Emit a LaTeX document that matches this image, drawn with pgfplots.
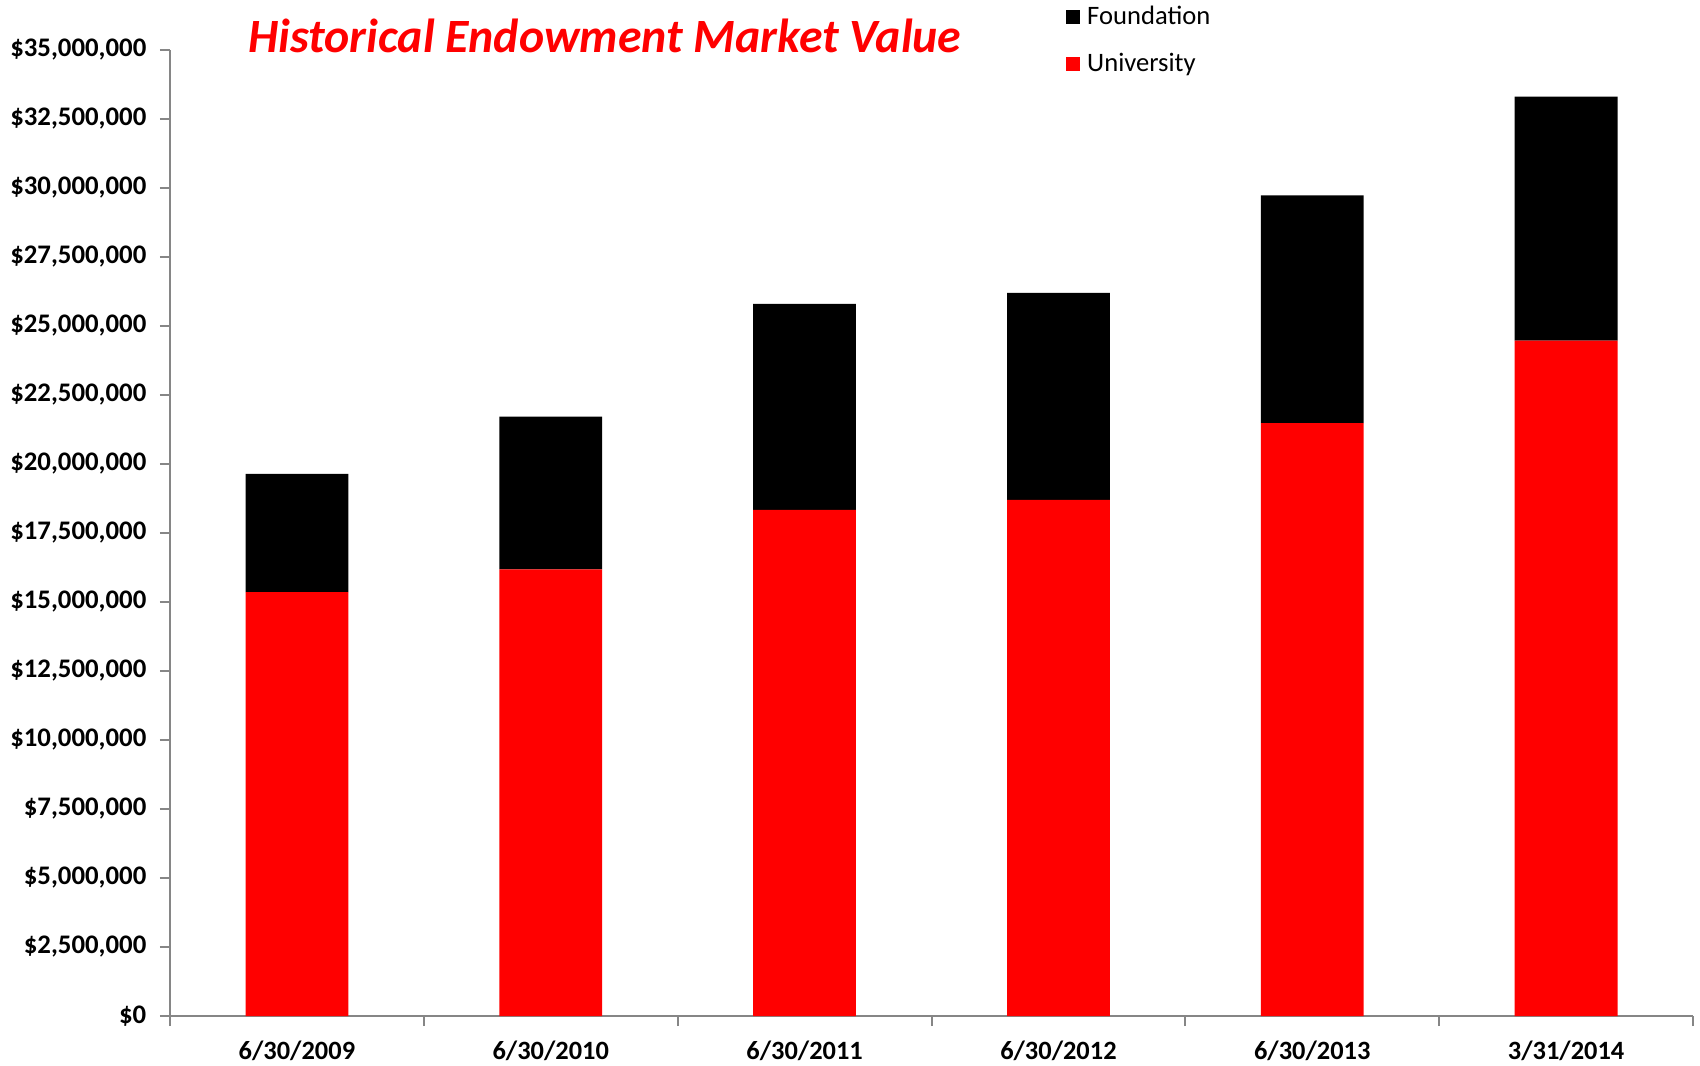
\documentclass[border=0pt]{standalone}
\usepackage{pgfplots}
\pgfplotsset{compat=1.18}
\usepackage{fontspec}
\setmainfont{Carlito}
\definecolor{axgray}{RGB}{134,134,134}
\begin{document}
\begin{tikzpicture}
\begin{axis}[
  scale only axis,
  width=761.5pt, height=483pt,
  ybar stacked,
  bar width=0.405,
  xmin=-0.5, xmax=5.5,
  ymin=0, ymax=35000000,
  axis x line=bottom, axis y line=left,
  axis line style={axgray, line width=1pt, -},
  xtick={0,1,2,3,4,5},
  xticklabels={6/30/2009,6/30/2010,6/30/2011,6/30/2012,6/30/2013,3/31/2014},
  major x tick style={draw=none},
  minor xtick={-0.5,0.5,1.5,2.5,3.5,4.5,5.5},
  minor x tick style={axgray, line width=1pt},
  minor tick length=5pt,
  ytick distance=2500000,
  major y tick style={axgray, line width=1pt},
  major tick length=5pt,
  tick align=outside,
  scaled y ticks=false,
  /pgf/number format/assume math mode=true,
  yticklabel={\$\pgfmathprintnumber[fixed,1000 sep={,},precision=0]{\tick}},
  yticklabel style={font=\fontsize{13.4}{16}\selectfont\bfseries, xshift=-3.3pt},
  xticklabel style={font=\fontsize{13.2}{16}\selectfont\bfseries, yshift=-4pt},
  title={Historical Endowment Market Value},
  title style={at={(rel axis cs:0.2856,1.002)}, anchor=center, text=red,
    font=\fontsize{23.9}{28}\selectfont\bfseries\itshape},
  legend style={at={(rel axis cs:0.584,1.054)}, anchor=north west, draw=none,
    fill=none, font=\fontsize{13.3}{16}\selectfont, row sep=9pt,
    /tikz/every even column/.append style={column sep=2pt}},
  legend cell align=left,
  reverse legend,
  legend image code/.code={\fill (0pt,-3.5pt) rectangle (7pt,3.5pt);},
]
\addplot[fill=red, draw=none] coordinates {(0,15360000) (1,16180000) (2,18340000) (3,18700000) (4,21480000) (5,24470000)};
\addplot[fill=black, draw=none] coordinates {(0,4280000) (1,5540000) (2,7460000) (3,7500000) (4,8250000) (5,8840000)};
\legend{\hspace{1.7pt}University,\hspace{1.7pt}Foundation}
\end{axis}
\pgfresetboundingbox
\useasboundingbox (-85pt,-24.5pt) rectangle (765pt,508pt);
\end{tikzpicture}
\end{document}
